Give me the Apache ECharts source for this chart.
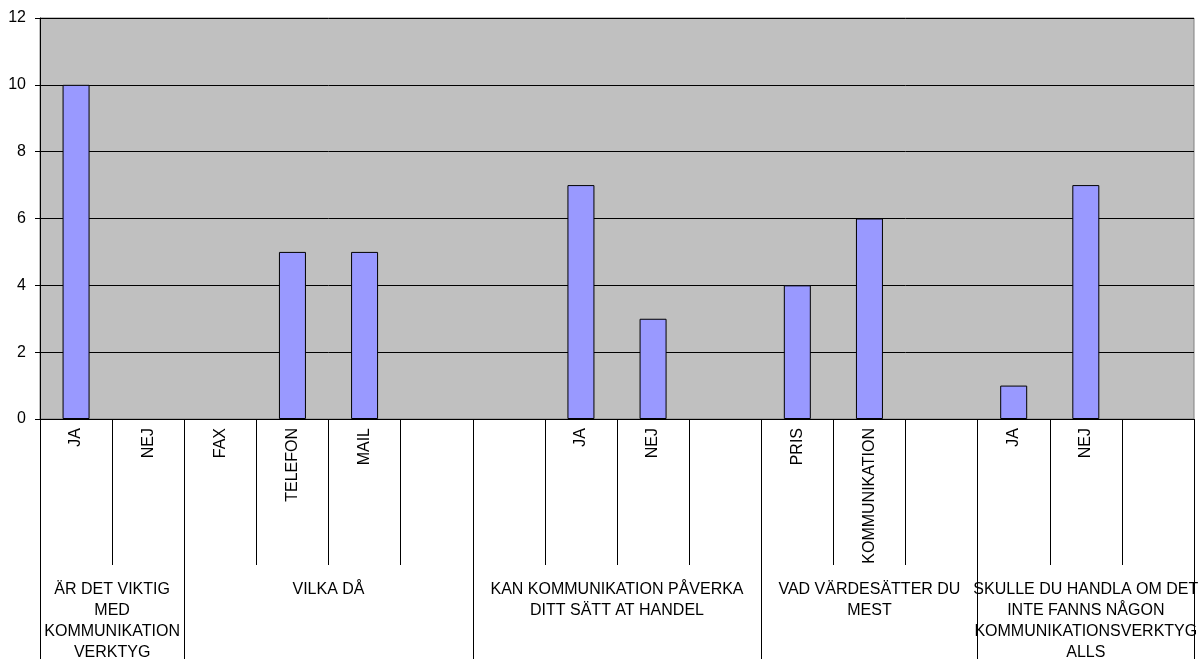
<!DOCTYPE html>
<html>
<head>
<meta charset="utf-8">
<script src="https://cdn.jsdelivr.net/npm/echarts@6/dist/echarts.min.js"></script>
<style>html,body{margin:0;padding:0;background:#fff}#c{width:1200px;height:659px}</style>
</head>
<body>
<div id="c"></div>
<script>
var categories = ["JA","NEJ","FAX","TELEFON","MAIL","","","JA","NEJ","","PRIS","KOMMUNIKATION","","JA","NEJ",""];
var values = [10,0,0,5,5,0,0,7,3,0,4,6,0,1,7,0];
var groupNames = [
  "ÄR DET VIKTIG\nMED\nKOMMUNIKATION\nVERKTYG",
  "VILKA DÅ",
  "KAN KOMMUNIKATION PÅVERKA\nDITT SÄTT AT HANDEL",
  "VAD VÄRDESÄTTER DU\nMEST",
  "SKULLE DU HANDLA OM DET\nINTE FANNS NÅGON\nKOMMUNIKATIONSVERKTYG\nALLS"
];
var groupBounds = [0,2,6,10,13,16];
var yTicks = [0,2,4,6,8,10,12];

var groupCenters = [];
for (var i = 0; i < groupNames.length; i++) groupCenters.push((groupBounds[i] + groupBounds[i+1]) / 2);

var barData = values.map(function (v) {
  return v === 0 ? {value: v, itemStyle: {borderWidth: 0, opacity: 0}} : v;
});

var FONT = "'Liberation Sans', Arial, sans-serif";
var chart = echarts.init(document.getElementById('c'), null, {renderer: 'canvas'});
chart.setOption({
  animation: false,
  grid: {left: 40, right: 6, top: 18, bottom: 240, containLabel: false, outerBoundsMode: 'none',
         show: true, backgroundColor: '#C0C0C0', borderColor: '#808080', borderWidth: 1},
  xAxis: [
    {
      type: 'category', data: categories, position: 'bottom',
      axisLine: {lineStyle: {color: '#000', width: 1}},
      axisTick: {show: true, interval: 0, length: 146, lineStyle: {color: '#000'}},
      axisLabel: {interval: 0, rotate: 90, margin: 9, fontSize: 16, color: '#000', fontFamily: FONT}
    },
    {
      type: 'value', min: 0, max: 16, position: 'bottom',
      axisLine: {show: false},
      splitLine: {show: false},
      axisTick: {show: true, customValues: groupBounds, length: 260, lineStyle: {color: '#000'}},
      axisLabel: {
        customValues: groupCenters, margin: 160, fontSize: 16, lineHeight: 21, color: '#000', fontFamily: FONT, align: 'center',
        formatter: function (v) { var idx = groupCenters.indexOf(v); return idx >= 0 ? groupNames[idx] : ''; }
      }
    }
  ],
  yAxis: {
    type: 'value', min: yTicks[0], max: yTicks[yTicks.length-1], interval: 2,
    axisLine: {show: true, lineStyle: {color: '#000'}},
    axisTick: {show: true, length: 5, lineStyle: {color: '#000'}},
    axisLabel: {margin: 14, fontSize: 16, color: '#000', fontFamily: FONT},
    splitLine: {show: true, lineStyle: {color: '#000', width: 1}}
  },
  series: [{
    type: 'bar', xAxisIndex: 0, data: barData, barWidth: 27,
    itemStyle: {color: '#9999FF', borderColor: '#000', borderWidth: 1}
  }]
});
</script>
</body>
</html>
